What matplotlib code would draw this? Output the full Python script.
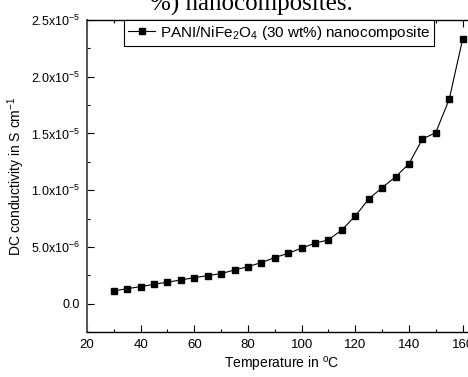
import matplotlib
matplotlib.use("Agg")
import matplotlib.pyplot as plt
from matplotlib.ticker import MultipleLocator, FixedLocator, FixedFormatter

plt.rcParams['font.family'] = ['Liberation Sans', 'DejaVu Sans']
plt.rcParams['mathtext.default'] = 'regular'

temperature = [30, 35, 40, 45, 50, 55, 60, 65, 70, 75, 80, 85, 90, 95, 100,
               105, 110, 115, 120, 125, 130, 135, 140, 145, 150, 155, 160]
conductivity = [1.12e-6, 1.32e-6, 1.50e-6, 1.71e-6, 1.89e-6, 2.09e-6, 2.29e-6,
                2.47e-6, 2.65e-6, 2.97e-6, 3.26e-6, 3.62e-6, 4.06e-6, 4.44e-6,
                4.89e-6, 5.33e-6, 5.62e-6, 6.50e-6, 7.73e-6, 9.21e-6, 1.023e-5,
                1.117e-5, 1.232e-5, 1.45e-5, 1.508e-5, 1.80e-5, 2.33e-5]
ytick_values = [0.0, 5e-6, 1e-5, 1.5e-5, 2e-5, 2.5e-5]
ytick_labels = ['0.0', '5.0x10$^{-6}$', '1.0x10$^{-5}$', '1.5x10$^{-5}$',
                '2.0x10$^{-5}$', '2.5x10$^{-5}$']
xtick_values = [20, 40, 60, 80, 100, 120, 140, 160]
series_label = 'PANI/NiFe$_2$O$_4$ (30 wt%) nanocomposite'

W, H = 468, 377
fig = plt.figure(figsize=(W / 100, H / 100), dpi=100)
left = 87 / W
bottom = 1 - 332 / H
top = 1 - 20 / H
right = 476 / W
ax = fig.add_axes([left, bottom, right - left, top - bottom])

ax.plot(temperature, conductivity, color='black', lw=0.8, marker='s',
        markersize=5, markerfacecolor='black', markeredgecolor='black',
        label=series_label, clip_on=False, zorder=3)

ax.set_xlim(20, 165)
ax.set_ylim(-2.5e-6, 2.5e-5)
ax.xaxis.set_major_locator(FixedLocator(xtick_values))
ax.xaxis.set_minor_locator(MultipleLocator(10))
ax.yaxis.set_major_locator(FixedLocator(ytick_values))
ax.yaxis.set_major_formatter(FixedFormatter(ytick_labels))
ax.yaxis.set_minor_locator(MultipleLocator(2.5e-6))
ax.tick_params(which='both', direction='in', top=True, right=True,
               labelsize=9, colors='black', width=0.8)
ax.tick_params(axis='x', labelsize=9.5)
ax.tick_params(which='major', length=5, pad=5)
ax.tick_params(which='minor', length=2.5)
for s in ax.spines.values():
    s.set_linewidth(1.0)
    s.set_color('black')
ax.spines['left'].set_color('#555555')
ax.spines['left'].set_linewidth(1.4)

ax.set_xlabel('Temperature in $^{o}$C', fontsize=10, labelpad=3)
ax.set_ylabel('DC conductivity in S cm$^{-1}$', fontsize=10, labelpad=3)

leg = ax.legend(loc='upper left', bbox_to_anchor=(124 / W, top),
                bbox_transform=fig.transFigure, borderaxespad=0,
                fancybox=False, edgecolor='black', framealpha=1,
                fontsize=11, handlelength=1.8, handletextpad=0.3,
                borderpad=0.25)
leg.get_frame().set_linewidth(0.8)

fig.text(150 / W, 1 - 11 / H, '%) nanocomposites.', family='Liberation Serif',
         fontsize=18, va='baseline', ha='left')

fig.savefig('out.png', dpi=100)
